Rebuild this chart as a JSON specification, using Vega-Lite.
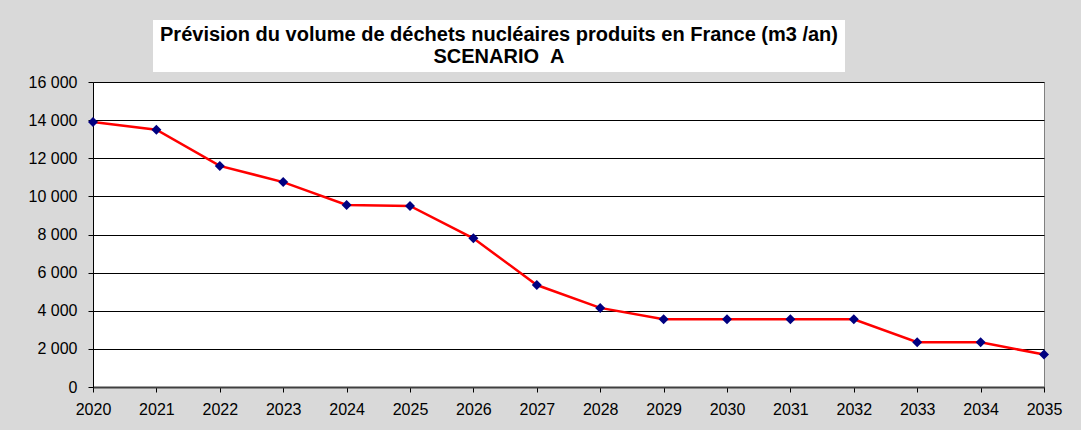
{
  "$schema": "https://vega.github.io/schema/vega-lite/v6.json",
  "background": "#d9d9d9",
  "autosize": {"type": "pad"},
  "padding": {"left": 27, "top": 20, "right": 21, "bottom": 19},
  "config": {"font": "Liberation Sans", "view": {"stroke": null}},
  "spacing": 1,
  "align": "none",
  "vconcat": [
    {
      "spacing": 0,
      "hconcat": [
        {
          "width": 60,
          "height": 52,
          "data": {"values": [{"t": ""}]},
          "mark": {"type": "text"},
          "encoding": {"text": {"field": "t"}}
        },
        {
          "width": 692,
          "height": 52,
          "view": {"fill": "white", "stroke": null},
          "data": {"values": [
            {"ligne": 1, "t": "Prévision du volume de déchets nucléaires produits en France (m3 /an)"},
            {"ligne": 2, "t": "SCENARIO\u00a0\u00a0A"}
          ]},
          "mark": {"type": "text", "fontWeight": "bold", "fontSize": 20, "color": "black", "font": "Liberation Sans"},
          "encoding": {
            "y": {"field": "ligne", "type": "ordinal", "axis": null, "scale": {"type": "point", "padding": 0.65}},
            "text": {"field": "t"}
          }
        }
      ]
    },
    {
      "width": 951,
      "height": 305,
      "view": {"fill": "white", "stroke": "#808080"},
      "data": {"values": [
        {"annee": 2020, "volume": 13900},
        {"annee": 2021, "volume": 13500},
        {"annee": 2022, "volume": 11600},
        {"annee": 2023, "volume": 10750},
        {"annee": 2024, "volume": 9550},
        {"annee": 2025, "volume": 9500},
        {"annee": 2026, "volume": 7800},
        {"annee": 2027, "volume": 5350},
        {"annee": 2028, "volume": 4150},
        {"annee": 2029, "volume": 3550},
        {"annee": 2030, "volume": 3550},
        {"annee": 2031, "volume": 3550},
        {"annee": 2032, "volume": 3550},
        {"annee": 2033, "volume": 2350},
        {"annee": 2034, "volume": 2350},
        {"annee": 2035, "volume": 1700}
      ]},
      "encoding": {
        "x": {
          "field": "annee", "type": "quantitative",
          "scale": {"domain": [2020, 2035], "nice": false, "zero": false},
          "axis": {
            "title": null, "grid": false, "tickCount": 15, "format": "d",
            "domainColor": "#404040", "domainWidth": 2,
            "tickColor": "black", "tickSize": 5,
            "labelFontSize": 16, "labelColor": "black", "labelPadding": 9,
            "labelFont": "Liberation Sans", "labelFlush": false
          }
        },
        "y": {
          "field": "volume", "type": "quantitative",
          "scale": {"domain": [0, 16000], "nice": false},
          "axis": {
            "title": null, "grid": true, "gridColor": "black", "gridWidth": 1, "gridOpacity": 1,
            "tickCount": 8, "labelExpr": "replace(format(datum.value, ','), ',', ' ')",
            "domainColor": "black", "domainWidth": 1,
            "tickColor": "black", "tickSize": 5,
            "labelFontSize": 16, "labelColor": "black", "labelPadding": 11,
            "labelFont": "Liberation Sans"
          }
        }
      },
      "layer": [
        {"mark": {"type": "line", "color": "#ff0000", "strokeWidth": 2.5}},
        {"mark": {"type": "point", "shape": "diamond", "filled": true, "color": "#000080", "size": 100, "opacity": 1}}
      ]
    }
  ]
}
